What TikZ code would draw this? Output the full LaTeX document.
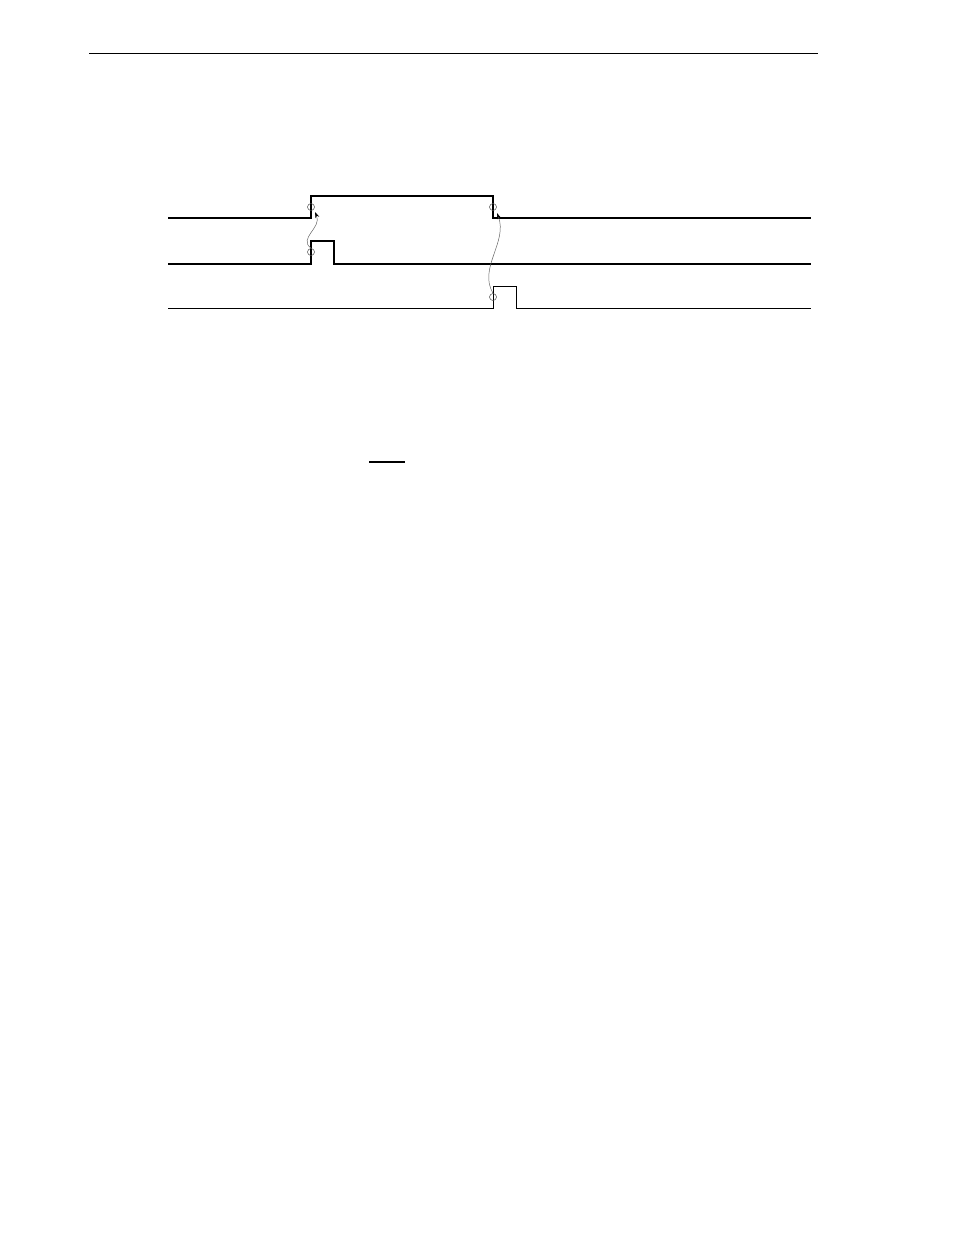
\documentclass[tikz,border=0pt]{standalone}
\usetikzlibrary{arrows.meta}
\begin{document}
\begin{tikzpicture}[x=1pt,y=-1pt,
  thicksig/.style={line width=1.7pt,line join=miter},
  thinsig/.style={line width=0.9pt},
  ring/.style={circle,draw=black!70,line width=0.5pt,minimum size=7pt,inner sep=0pt},
  link/.style={draw=black!60,line width=0.5pt,-{Stealth[length=6pt,width=4pt,black]}}]
\useasboundingbox (0,0) rectangle (954,1235);
% header rule
\draw[line width=1pt] (89,53) -- (818,53);
% signal 1
\draw[thicksig] (168,218) -- (311,218) -- (311,196) -- (493,196) -- (493,218) -- (811,218);
% signal 2
\draw[thicksig] (168,264) -- (311,264) -- (311,241) -- (334,241) -- (334,264) -- (811,264);
% signal 3
\draw[thinsig] (168,308) -- (493,308) -- (493,286) -- (516,286) -- (516,308) -- (811,308);
% circles
\node[ring] (r1) at (311,207) {};
\node[ring] (r2) at (311,252) {};
\node[ring] (r3) at (493,207) {};
\node[ring] (r4) at (493,297) {};
\coordinate (t1) at (315,212);
\coordinate (t3) at (497,213);
% arrows
\draw[link] (r2.north) .. controls (298,238) and (322,228) .. (t1);
\draw[link] (r4.north) .. controls (478,268) and (508,242) .. (t3);
% underline
\draw[line width=1.3pt] (369,462) -- (405,462);
\end{tikzpicture}
\end{document}
